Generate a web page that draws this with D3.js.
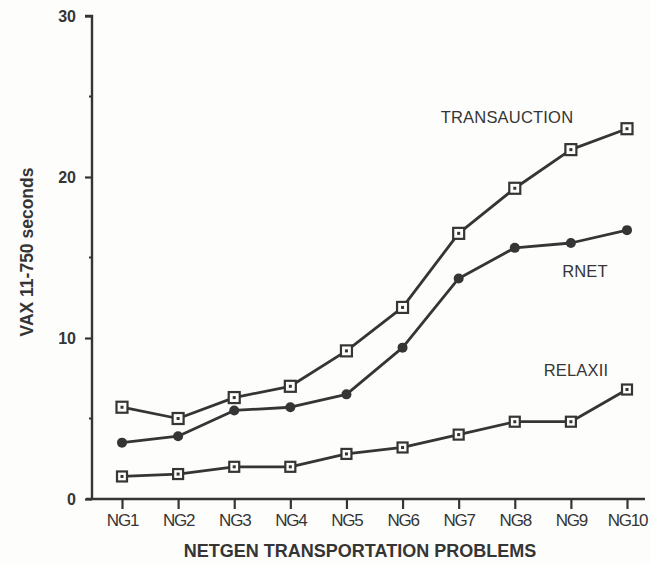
<!DOCTYPE html>
<html><head><meta charset="utf-8">
<script src="https://cdn.jsdelivr.net/npm/d3@7"></script>
<style>body{margin:0;background:#fdfdfb;}svg{display:block;}</style>
</head><body>
<svg id="c" width="651" height="564"></svg>
<script>
const categories = ["NG1","NG2","NG3","NG4","NG5","NG6","NG7","NG8","NG9","NG10"];
const transauction = [5.7, 5.0, 6.3, 7.0, 9.2, 11.9, 16.5, 19.3, 21.7, 23.0];
const rnet = [3.5, 3.9, 5.5, 5.7, 6.5, 9.4, 13.7, 15.6, 15.9, 16.7];
const relaxii = [1.4, 1.55, 2.0, 2.0, 2.8, 3.2, 4.0, 4.8, 4.8, 6.8];
const yTicks = [0, 10, 20, 30];
const yMinor = [5, 15, 25];

const ink = "#353535";
const font = "Liberation Sans, Arial, sans-serif";
const svg = d3.select("#c");
const x = d3.scalePoint().domain(categories).range([122, 627]);
const y = d3.scaleLinear().domain([0, 30]).range([499, 16]);
const axisX = 92;

// y axis
const ya = svg.append("g").attr("transform", `translate(${axisX},0)`)
  .call(d3.axisLeft(y).tickValues(yTicks).tickSize(7).tickPadding(9).tickFormat(d3.format("d")));
ya.select(".domain").attr("stroke", ink).attr("stroke-width", 2.4).attr("d", `M-7,${y(30)}H0V${y(0)}`);
ya.selectAll(".tick line").attr("stroke", ink).attr("stroke-width", 2.2);
ya.selectAll(".tick text").attr("fill", ink).style("font-family", font).style("font-size", "16px").style("font-weight", "bold");
svg.append("g").selectAll("line").data(yMinor).join("line")
  .attr("x1", axisX - 3).attr("x2", axisX).attr("y1", d => y(d)).attr("y2", d => y(d))
  .attr("stroke", ink).attr("stroke-width", 2);

// x axis
const xa = svg.append("g").attr("transform", `translate(0,${y(0)})`)
  .call(d3.axisBottom(x).tickSize(10).tickPadding(5));
xa.select(".domain").attr("stroke", ink).attr("stroke-width", 2.4).attr("d", `M86,0H645`);
xa.selectAll(".tick line").attr("stroke", ink).attr("stroke-width", 2.2);
xa.selectAll(".tick text").attr("fill", ink).style("font-family", font)
  .style("font-size", "17px").style("letter-spacing", "-1.2px");

// axis titles
svg.append("text").attr("x", 360).attr("y", 557).attr("text-anchor", "middle")
  .attr("fill", ink).style("font-family", font).style("font-size", "18px")
  .style("font-weight", "bold").text("NETGEN TRANSPORTATION PROBLEMS");
svg.append("text").attr("transform", "translate(33,252) rotate(-90)").attr("text-anchor", "middle")
  .attr("fill", ink).style("font-family", font).style("font-size", "17.5px")
  .style("font-weight", "bold").text("VAX 11-750 seconds");

const line = d3.line().x((d, i) => x(categories[i])).y(d => y(d));
function series(vals) {
  svg.append("path").datum(vals).attr("d", line).attr("fill", "none")
    .attr("stroke", ink).attr("stroke-width", 2.8).attr("stroke-linejoin", "round");
}
series(transauction); series(rnet); series(relaxii);

// markers
function squares(vals, s) {
  const g = svg.append("g");
  g.selectAll("rect.o").data(vals).join("rect")
    .attr("x", (d, i) => x(categories[i]) - s / 2).attr("y", d => y(d) - s / 2)
    .attr("width", s).attr("height", s).attr("fill", "#fdfdfb").attr("stroke", ink).attr("stroke-width", 2.2);
  g.selectAll("rect.i").data(vals).join("rect")
    .attr("x", (d, i) => x(categories[i]) - 1.5).attr("y", d => y(d) - 1.5)
    .attr("width", 3).attr("height", 3).attr("fill", ink);
}
squares(transauction, 11);
squares(relaxii, 10);
svg.append("g").selectAll("circle").data(rnet).join("circle")
  .attr("cx", (d, i) => x(categories[i])).attr("cy", d => y(d)).attr("r", 5).attr("fill", ink);

// series labels
const lab = [["TRANSAUCTION", 507, 123], ["RNET", 585, 277], ["RELAXII", 576, 376]];
svg.append("g").selectAll("text").data(lab).join("text")
  .attr("x", d => d[1]).attr("y", d => d[2]).attr("text-anchor", "middle").attr("fill", ink)
  .style("font-family", font).style("font-size", "16.5px")
  .style("letter-spacing", "0.2px").text(d => d[0]);
</script>
</body></html>
